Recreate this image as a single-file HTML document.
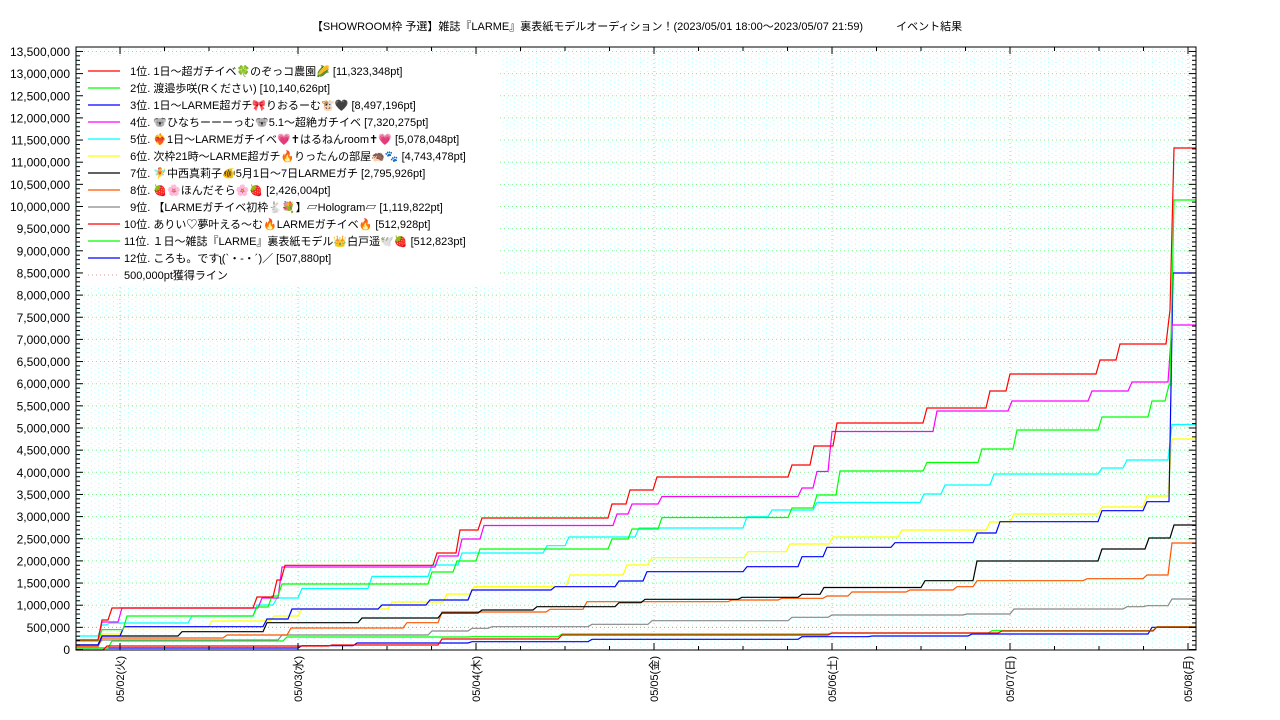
<!DOCTYPE html>
<html><head><meta charset="utf-8">
<style>
html,body{margin:0;padding:0;background:#fff;width:1280px;height:720px;overflow:hidden}
svg text{font-family:"Liberation Sans","Noto Sans CJK JP",sans-serif}
</style></head><body>
<svg id="s" width="1280" height="720" xmlns="http://www.w3.org/2000/svg">
<defs>
<pattern id="dots" x="76" y="0" width="7.42" height="4.43" patternUnits="userSpaceOnUse">
<rect x="0" y="0" width="1" height="1" fill="#9ff"/>
<rect x="3.7" y="2.2" width="1" height="1" fill="#bff"/>
</pattern>
</defs>
<text x="637" y="30" font-size="11" text-anchor="middle">【SHOWROOM枠 予選】雑誌『LARME』裏表紙モデルオーディション！(2023/05/01 18:00～2023/05/07 21:59)　　　イベント結果</text>
<rect x="76" y="47" width="1120" height="603" fill="url(#dots)"/>
<g id="grid"></g>
<g id="series" fill="none" stroke-width="1.2"></g>
<rect x="80" y="56" width="420" height="230" fill="#fff"/>
<g id="legend" font-size="11"></g>
<rect x="76" y="47" width="1120" height="603" fill="none" stroke="#000" stroke-width="1"/>
<g id="axes"></g>
</svg>
<script>
var s=document.getElementById('s');
var NS='http://www.w3.org/2000/svg';
function el(p,t,a,txt){var e=document.createElementNS(NS,t);for(var k in a)e.setAttribute(k,a[k]);if(txt)e.textContent=txt;document.getElementById(p).appendChild(e);return e;}
function Y(v){return 649.5-v/500000*22.15;}
// grid
for(var i=1;i<=27;i++){var y=Y(i*500000);el('grid','line',{x1:76,x2:1196,y1:y,y2:y,stroke:'#8e8','stroke-dasharray':'1,3'});}
for(var d=0;d<7;d++){var x=120+178*d;el('grid','line',{x1:x,x2:x,y1:47,y2:650,stroke:'#8e8','stroke-dasharray':'1,3'});}
el('grid','line',{x1:76,x2:1196,y1:627.4,y2:627.4,stroke:'#d99','stroke-dasharray':'1,3'});
// axes ticks
for(var i=0;i<=27;i++){var y=Y(i*500000);
 el('axes','line',{x1:76,x2:83,y1:y,y2:y,stroke:'#000'});el('axes','line',{x1:1189,x2:1196,y1:y,y2:y,stroke:'#000'});
 var lab=(i*500000).toLocaleString('en-US');
 el('axes','text',{x:70,y:y+4.5,'font-size':'12','text-anchor':'end'},lab);
 for(var j=1;j<5&&i<27;j++){var yy=y-j*4.43;el('axes','line',{x1:76,x2:80,y1:yy,y2:yy,stroke:'#000'});el('axes','line',{x1:1192,x2:1196,y1:yy,y2:yy,stroke:'#000'});}
}
for(var k=-1;k<26;k++){var x=120+44.5*k;if(x<76||x>1196)continue;var big=(k%4==0);
 el('axes','line',{x1:x,x2:x,y1:650,y2:big?643:646,stroke:'#000'});el('axes','line',{x1:x,x2:x,y1:47,y2:big?54:51,stroke:'#000'});}
var days=['05/02(火)','05/03(水)','05/04(木)','05/05(金)','05/06(土)','05/07(日)','05/08(月)'];
for(var d=0;d<7;d++){var x=120+178*d+4;el('axes','text',{x:0,y:0,'font-size':'11','text-anchor':'end',transform:'translate('+x+',656) rotate(-90)'},days[d]);}
// series
function path(pts,col){var d='M76,'+pts[0][1];var py=pts[0][1];for(var i=1;i<pts.length;i++){var x=pts[i][0],y=pts[i][1];d+=' L'+(x-2)+','+py+' L'+(x+2)+','+y;py=y;}d+=' L'+(pts[pts.length-1][0]>1190?1196:1196)+','+py;el('series','path',{d:d,stroke:col});}
var S=[
['#00f',[[76,648],[300,645.7],[355,643],[470,641.7],[590,639.3],[800,636.7],[870,636],[970,634],[1150,627.3]]],
['#0f0',[[76,648],[110,641],[285,637],[470,636.7],[560,634],[830,633],[990,630.7],[1155,626.7]]],
['#f00',[[76,650],[105,646],[330,645],[440,639],[560,635],[830,633],[1000,631],[1155,627]]],
['#888',[[76,645],[100,640],[280,635],[430,631],[470,628.3],[490,626.7],[590,624.3],[650,620.7],[790,617.3],[830,615],[965,614],[1012,609],[1125,606.7],[1145,605.7],[1170,599]]],
['#f50',[[76,646.7],[100,638],[225,635],[289,628],[405,622.7],[440,612],[548,609.3],[585,601.7],[730,600],[780,598.3],[825,596],[850,592],[908,590],[955,586.7],[975,580.7],[1085,578.7],[1145,575],[1170,543]]],
['#000',[[76,645],[100,636],[180,631.7],[265,622.7],[360,618],[440,613],[480,610],[535,606.7],[617,602.7],[643,599.3],[740,597.3],[800,594.3],[822,587.5],[923,580.7],[975,561],[1100,549],[1147,538],[1172,525]]],
['#ff0',[[76,641],[100,634],[122,627.7],[210,621],[272,616],[300,609],[390,602],[445,594],[472,586.7],[568,575],[625,565],[650,557.7],[746,551.7],[788,544],[831,537],[900,530],[988,522],[1012,514],[1100,507],[1145,496],[1170,439]]],
['#0ff',[[76,636],[100,625],[108,623],[190,616],[255,605],[275,598],[300,588.5],[370,576.4],[430,565],[460,553],[545,545.7],[567,537],[637,528],[745,516.7],[770,510],[815,502.5],[922,494],[943,485],[992,474],[1100,468],[1125,460],[1170,424.5]]],
['#00f',[[76,645],[100,636],[122,626.7],[265,619],[290,609],[380,605],[428,600],[470,590],[553,586.7],[617,581],[645,571.7],[745,566.7],[800,556.7],[825,547.3],[893,542.7],[975,533],[998,521.7],[1100,510.7],[1145,501.7],[1171,273]]],
['#f0f',[[76,640],[100,622],[120,608],[260,598],[280,567],[437,556],[460,539],[482,525.5],[615,514],[630,504],[660,496.5],[800,488],[815,471.5],[830,431.5],[935,411],[1010,401],[1090,391],[1130,382],[1170,325]]],
['#0f0',[[76,641],[100,629.6],[125,616],[255,607],[270,596],[280,584],[430,572],[455,561],[478,549],[610,539],[630,529],[660,517.5],[790,508],[815,495],[838,471],[925,462.5],[980,449],[1015,430],[1100,417],[1150,401],[1167,385],[1172,200]]],
['#f00',[[76,640],[100,620],[110,608],[255,597],[275,580],[283,565.3],[435,553],[458,530],[480,518],[610,504],[628,490],[655,477],[790,465],[812,446],[835,423],[925,408],[988,391],[1008,374],[1098,360],[1118,344],[1168,310],[1172,148]]]
];
S.forEach(function(a){path(a[1],a[0]);});
// legend
var L=[['#f00','  1位. 1日～超ガチイベ🍀のぞっコ農園🌽 [11,323,348pt]'],
['#0f0','  2位. 渡邉歩咲(Rください) [10,140,626pt]'],
['#00f','  3位. 1日～LARME超ガチ🎀りおるーむ🐮🖤 [8,497,196pt]'],
['#f0f','  4位. 🐨ひなちーーーっむ🐨5.1～超絶ガチイベ [7,320,275pt]'],
['#0ff','  5位. ❤️‍🔥1日～LARMEガチイベ💗✝はるねんroom✝💗 [5,078,048pt]'],
['#ff0','  6位. 次枠21時～LARME超ガチ🔥りったんの部屋🦔🐾 [4,743,478pt]'],
['#000','  7位. 🧚中西真莉子🐠5月1日～7日LARMEガチ [2,795,926pt]'],
['#f50','  8位. 🍓🌸ほんだそら🌸🍓 [2,426,004pt]'],
['#888','  9位. 【LARMEガチイベ初枠🐇💐】▱Hologram▱ [1,119,822pt]'],
['#f00','10位. ありい♡夢叶える～む🔥LARMEガチイベ🔥 [512,928pt]'],
['#0f0','11位. １日～雑誌『LARME』裏表紙モデル👑白戸遥🕊️🍓 [512,823pt]'],
['#00f','12位. ころも。です\u0285(`・-・´)／ [507,880pt]']];
for(var i=0;i<L.length;i++){var y=71+17*i;el('legend','line',{x1:88,x2:120,y1:y,y2:y,stroke:L[i][0],'stroke-width':1.2});
 el('legend','text',{x:124,y:y+4,'xml:space':'preserve'},L[i][1]).setAttribute('style','white-space:pre');}
var y=275;el('legend','line',{x1:88,x2:120,y1:y,y2:y,stroke:'#d99','stroke-dasharray':'1,3'});
el('legend','text',{x:124,y:y+4},'500,000pt獲得ライン');
</script>
</body></html>
